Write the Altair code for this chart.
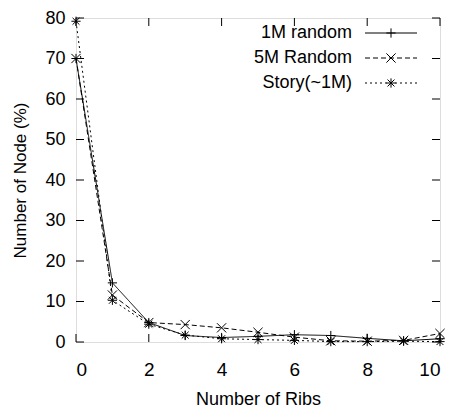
import altair as alt
import pandas as pd

ribs = list(range(11))
series_names = ["1M random", "5M Random", "Story(~1M)"]
r1m = [70, 14.6, 4.8, 1.6, 1.1, 1.4, 1.8, 1.6, 0.9, 0.3, 0.8]
r5m = [70, 11.6, 4.8, 4.3, 3.5, 2.4, 1.2, 0.3, 0.2, 0.4, 2.1]
story = [79.2, 10.3, 4.4, 1.7, 0.8, 0.6, 0.4, 0.1, 0.1, 0.2, 0.1]
x_ticks = [0, 2, 4, 6, 8, 10]
y_ticks = [0, 10, 20, 30, 40, 50, 60, 70, 80]

W, H = 364, 324
FONT = "Liberation Sans"

P_PLUS = "M-1,0L1,0M0,-1L0,1"
P_X = "M-1,-1L1,1M-1,1L1,-1"
P_STAR = "M-1,0L1,0M0,-1L0,1M-0.75,-0.75L0.75,0.75M-0.75,0.75L0.75,-0.75"
shapes = [P_PLUS, P_X, P_STAR]
dashes = [[1, 0], [5, 3], [2, 3]]
MSIZE = 85

rows = []
for name, vals in zip(series_names, [r1m, r5m, story]):
    for x, v in zip(ribs, vals):
        rows.append({"ribs": x, "pct": v, "series": name})
df = pd.DataFrame(rows)

xs = alt.Scale(domain=[0, 10], nice=False)
ys = alt.Scale(domain=[0, 80], nice=False)

x_axis = alt.Axis(values=x_ticks, title="Number of Ribs", grid=False,
                  tickSize=0, labelPadding=18, labelFont=FONT, titleFont=FONT,
                  labelFontSize=19, titleFontSize=18, titleFontWeight="normal",
                  labelColor="black", titleColor="black", domain=False,
                  titleY=62, titleBaseline="alphabetic")
y_axis = alt.Axis(values=y_ticks, title="Number of Node (%)", grid=False,
                  tickSize=0, labelPadding=11, labelFont=FONT, titleFont=FONT,
                  labelFontSize=18, titleFontSize=17, titleFontWeight="normal",
                  labelColor="black", titleColor="black", domain=False,
                  titleX=-51, titleY=H / 2, titleAngle=-90, titleAlign="center",
                  titleBaseline="alphabetic")

layers = []
for i, name in enumerate(series_names):
    d = df[df.series == name]
    base = alt.Chart(d)
    line = base.mark_line(color="black", strokeWidth=1, strokeDash=dashes[i]).encode(
        x=alt.X("ribs:Q", scale=xs, axis=x_axis),
        y=alt.Y("pct:Q", scale=ys, axis=y_axis),
    )
    pts = base.mark_point(shape=shapes[i], filled=False, color="black",
                          strokeWidth=1, size=MSIZE, opacity=1).encode(
        x=alt.X("ribs:Q", scale=xs), y=alt.Y("pct:Q", scale=ys))
    layers += [line, pts]

# inward ticks on all four sides
ydf = pd.DataFrame({"v": y_ticks})
xdf = pd.DataFrame({"v": x_ticks})
tk = dict(color="black", strokeWidth=1)
layers.append(alt.Chart(ydf).mark_rule(**tk).encode(
    y=alt.Y("v:Q", scale=ys), x=alt.value(0), x2=alt.value(8)))
layers.append(alt.Chart(ydf).mark_rule(**tk).encode(
    y=alt.Y("v:Q", scale=ys), x=alt.value(W - 8), x2=alt.value(W)))
layers.append(alt.Chart(xdf).mark_rule(**tk).encode(
    x=alt.X("v:Q", scale=xs), y=alt.value(H), y2=alt.value(H - 8)))
layers.append(alt.Chart(xdf).mark_rule(**tk).encode(
    x=alt.X("v:Q", scale=xs), y=alt.value(0), y2=alt.value(8)))

# legend
leg_y = [15, 40, 65]
for i, name in enumerate(series_names):
    ld = pd.DataFrame({"name": [name]})
    layers.append(alt.Chart(ld).mark_text(align="right", baseline="middle", font=FONT,
                                          fontSize=18, color="black").encode(
        text="name:N", x=alt.value(276), y=alt.value(leg_y[i])))
    layers.append(alt.Chart(ld).mark_rule(color="black", strokeWidth=1,
                                          strokeDash=dashes[i]).encode(
        x=alt.value(289), x2=alt.value(341), y=alt.value(leg_y[i])))
    layers.append(alt.Chart(ld).mark_point(shape=shapes[i], filled=False, color="black",
                                           strokeWidth=1, size=MSIZE, opacity=1).encode(
        x=alt.value(315), y=alt.value(leg_y[i])))

chart = alt.layer(*layers).properties(
    width=W, height=H,
    autosize=alt.AutoSizeParams(type="none"),
    padding={"left": 68, "top": 10, "right": 6, "bottom": 66},
).configure_view(stroke="black", strokeWidth=1.5).configure(background="white")

chart.save("out.html", embed_options={"renderer": "svg", "actions": False})
